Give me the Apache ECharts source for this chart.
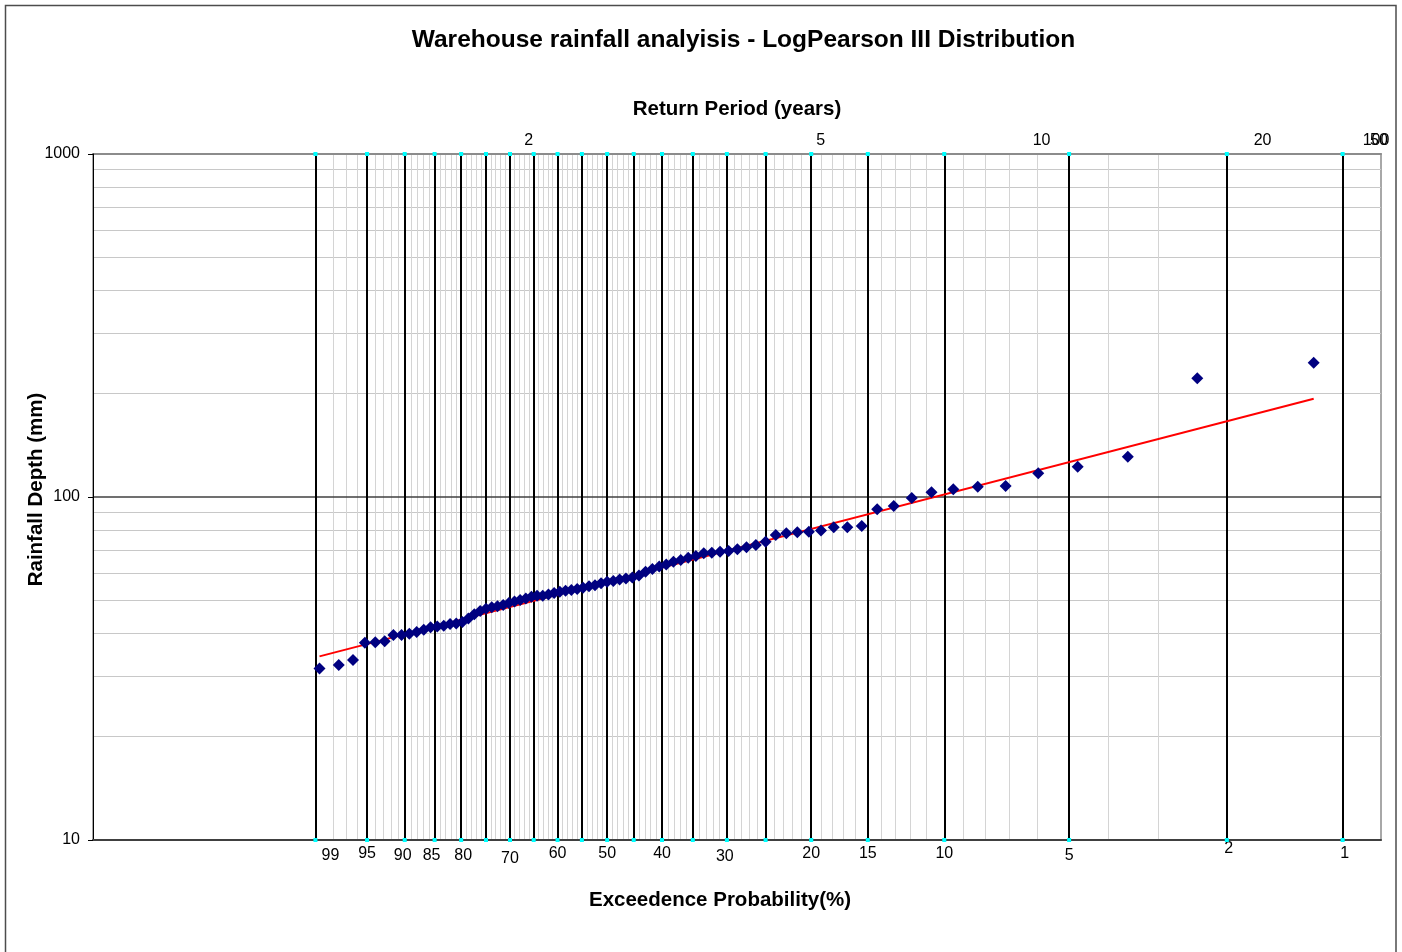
<!DOCTYPE html>
<html>
<head>
<meta charset="utf-8">
<title>Warehouse rainfall analyisis - LogPearson III Distribution</title>
<script src="https://cdn.jsdelivr.net/npm/echarts@6.0.0/dist/echarts.min.js"></script>
<style>
  html, body { margin: 0; padding: 0; background: #ffffff; }
  #chart { width: 1402px; height: 952px; }
</style>
</head>
<body>
<div id="chart"></div>
<script>
// Annual maximum rainfall depths (mm), ranked from largest (rank 1) to smallest.
const rainfallDepth = [
  246.4, 221.8, 131.1, 122.6, 117.2, 107.7, 107.2, 105.3, 103.2, 99.3,
  94.1, 92.1, 82.3, 81.6, 81.6, 79.8, 79.2, 78.9, 78.4, 77.5,
  74.1, 72.5, 71.4, 70.4, 69.6, 69.3, 68.8, 68.5, 67.3, 66.5,
  65.5, 64.7, 63.6, 62.7, 61.7, 60.5, 59.0, 58.3, 57.9, 57.5,
  56.9, 56.6, 56.0, 55.3, 54.9, 54.4, 53.9, 53.6, 53.3, 52.9,
  52.5, 52.0, 51.5, 51.5, 51.2, 50.6, 50.1, 49.6, 49.1, 48.4,
  48.0, 47.7, 47.2, 46.5, 45.5, 44.2, 43.2, 42.8, 42.6, 42.1,
  41.9, 41.7, 41.0, 40.4, 39.9, 39.6, 39.6, 38.0, 37.7, 37.6,
  33.5, 32.4, 31.6
];

// Fitted Log-Pearson III depths (mm) at the largest and smallest plotting positions.
const fittedDepthEnds = [34.3, 193.5];

// Exceedance probability grid (%).
const majorProbabilities = [99, 95, 90, 85, 80, 75, 70, 65, 60, 55, 50, 45, 40, 35, 30, 25, 20, 15, 10, 5, 2, 1];
const labelledProbabilities = [99, 95, 90, 85, 80, 70, 60, 50, 40, 30, 20, 15, 10, 5, 2, 1];
const minorProbabilities = [
  98, 97, 96, 94, 93, 92, 91, 89, 88, 87, 86, 84, 83, 82, 81, 79, 78, 77, 76,
  74, 73, 72, 71, 69, 68, 67, 66, 64, 63, 62, 61, 59, 58, 57, 56, 54, 53, 52, 51,
  49, 48, 47, 46, 44, 43, 42, 41, 39, 38, 37, 36, 34, 33, 32, 31, 29, 28, 27, 26,
  24, 23, 22, 21, 19, 18, 17, 16, 14, 13, 12, 11, 9, 8, 7, 6, 4, 3
];

// Return period labels (years) along the top.
const returnPeriods = [2, 5, 10, 20, 50, 100];

// Depth ticks and intermediate depth grid lines (mm).
const depthTicks = [10, 100, 1000];
const depthGridMinor = [20, 30, 40, 50, 60, 70, 80, 90, 200, 300, 400, 500, 600, 700, 800, 900];

// Scale settings.
const scaleSkew = 1.15;                 // skew coefficient of the probability paper
const kAxisMin = -2.5, kAxisMax = 3.3;  // frequency-factor range of the plot
const rpAxisMin = 0.51, rpAxisMax = 29; // return-period range of the top scale (log)

const FONT = "'Liberation Sans', Arial, Helvetica, sans-serif";

// Standard normal quantile (Acklam's rational approximation).
function normInv(p) {
  const a = [-3.969683028665376e+01, 2.209460984245205e+02, -2.759285104469687e+02,
             1.383577518672690e+02, -3.066479806614716e+01, 2.506628277459239e+00];
  const b = [-5.447609879822406e+01, 1.615858368580409e+02, -1.556989798598866e+02,
             6.680131188771972e+01, -1.328068155288572e+01];
  const c = [-7.784894002430293e-03, -3.223964580411365e-01, -2.400758277161838e+00,
             -2.549732539343734e+00, 4.374664141464968e+00, 2.938163982698783e+00];
  const d = [7.784695709041462e-03, 3.224671290700398e-01, 2.445134137142996e+00,
             3.754408661907416e+00];
  const pl = 0.02425, ph = 1 - pl;
  let q, r;
  if (p < pl) {
    q = Math.sqrt(-2 * Math.log(p));
    return (((((c[0]*q+c[1])*q+c[2])*q+c[3])*q+c[4])*q+c[5]) / ((((d[0]*q+d[1])*q+d[2])*q+d[3])*q+1);
  }
  if (p <= ph) {
    q = p - 0.5; r = q * q;
    return (((((a[0]*r+a[1])*r+a[2])*r+a[3])*r+a[4])*r+a[5])*q / (((((b[0]*r+b[1])*r+b[2])*r+b[3])*r+b[4])*r+1);
  }
  q = Math.sqrt(-2 * Math.log(1 - p));
  return -(((((c[0]*q+c[1])*q+c[2])*q+c[3])*q+c[4])*q+c[5]) / ((((d[0]*q+d[1])*q+d[2])*q+d[3])*q+1);
}

// Pearson III frequency factor for an exceedance probability in % (Wilson-Hilferty).
function freqFactor(exceedPct) {
  const z = normInv(1 - exceedPct / 100);
  const k = scaleSkew / 6;
  return (2 / scaleSkew) * (Math.pow(1 + k * z - k * k, 3) - 1);
}

// Weibull plotting positions m / (n + 1).
const n = rainfallDepth.length;
const plottingPositions = rainfallDepth.map((_, i) => (i + 1) / (n + 1) * 100);
const observedPoints = rainfallDepth.map((d, i) => [freqFactor(plottingPositions[i]), d]);
const fittedPoints = [
  [freqFactor(plottingPositions[n - 1]), fittedDepthEnds[0]],
  [freqFactor(plottingPositions[0]), fittedDepthEnds[1]]
];
const gridMarkerPoints = [];
majorProbabilities.forEach(p => {
  gridMarkerPoints.push([freqFactor(p), depthTicks[0]]);
  gridMarkerPoints.push([freqFactor(p), depthTicks[depthTicks.length - 1]]);
});

// Small label offsets along the probability scale: [dx, dy] in px.
const probLabelNudge = { 99: [15, 2], 90: [-2, 2], 85: [-3, 2], 80: [2, 2], 70: [0, 4.5],
                         30: [-2, 2.5], 5: [0, 1.5], 2: [2, -5], 1: [2, 0] };
const probRich = {};
labelledProbabilities.forEach(p => {
  const [dx, dy] = probLabelNudge[p] || [0, 0];
  probRich['p' + p] = { padding: [5 + dy, dx < 0 ? -2 * dx : 0, 0, dx > 0 ? 2 * dx : 0] };
});

function nearestProbability(v) {
  let best = labelledProbabilities[0];
  labelledProbabilities.forEach(p => {
    if (Math.abs(freqFactor(p) - v) < Math.abs(freqFactor(best) - v)) best = p;
  });
  return best;
}

// Return periods beyond the top scale sit at its right end.
const rpPos = t => Math.log10(Math.min(t, rpAxisMax));
const rpOverflow = returnPeriods.filter(t => t > rpAxisMax);
const rpPrimary = returnPeriods.filter(t => t <= rpAxisMax).concat(rpOverflow.slice(-1));
const rpSecondary = rpOverflow.slice(0, -1);

function topAxis(periods, edgePadding, withName) {
  return {
    type: 'value',
    position: 'top',
    min: Math.log10(rpAxisMin),
    max: Math.log10(rpAxisMax),
    name: withName ? 'Return Period (years)' : '',
    nameLocation: 'middle',
    nameGap: 34,
    nameMoveOverlap: false,
    nameTextStyle: { fontFamily: FONT, fontSize: 20.5, fontWeight: 'bold', color: '#000' },
    axisLine: { show: withName, lineStyle: { color: '#8c8c8c', width: 2 } },
    axisTick: { show: false },
    splitLine: { show: false },
    axisLabel: {
      customValues: periods.map(rpPos),
      margin: 5,
      fontFamily: FONT, fontSize: 16, color: '#000',
      formatter: v => {
        const t = periods.find(x => Math.abs(rpPos(x) - v) < 1e-6);
        if (t == null) return '';
        return '{' + (t > rpAxisMax ? 'edge' : 'n') + '|' + t + '}';
      },
      rich: { n: {}, edge: { padding: [0, edgePadding, 0, 0] } }
    }
  };
}

const chart = echarts.init(document.getElementById('chart'), null, { renderer: 'canvas' });

chart.setOption({
  animation: false,
  backgroundColor: '#ffffff',
  title: {
    text: 'Warehouse rainfall analyisis - LogPearson III Distribution',
    left: 738.5,
    top: 23,
    textAlign: 'center',
    textStyle: { fontFamily: FONT, fontSize: 24.5, fontWeight: 'bold', color: '#000' }
  },
  graphic: [{
    type: 'rect',
    shape: { x: 5.5, y: 5.5, width: 1390.5, height: 960 },
    style: { fill: 'none', stroke: '#4d4d4d', lineWidth: 1.5 },
    silent: true,
    z: 0
  }],
  grid: {
    left: 93, right: 21, top: 154, bottom: 112,
    containLabel: false,
    outerBoundsMode: 'none',
    show: true,
    backgroundColor: 'transparent',
    borderColor: '#8c8c8c',
    borderWidth: 1.5
  },
  xAxis: [
    {
      // Exceedance probability scale (frequency-factor units)
      type: 'value',
      position: 'bottom',
      min: kAxisMin, max: kAxisMax,
      z: 1,
      name: 'Exceedence Probability(%)',
      nameLocation: 'middle',
      nameGap: 50,
      nameMoveOverlap: false,
      nameTextStyle: { fontFamily: FONT, fontSize: 20.5, fontWeight: 'bold', color: '#000', padding: [0, 34, 0, 0] },
      axisLine: { show: true, onZero: false, lineStyle: { color: '#404040', width: 2 } },
      axisTick: { show: false, customValues: majorProbabilities.map(freqFactor) },
      splitLine: { show: true, lineStyle: { color: '#000000', width: 2 } },
      axisLabel: {
        customValues: labelledProbabilities.map(freqFactor),
        margin: 1,
        fontFamily: FONT, fontSize: 16, color: '#000',
        formatter: v => { const p = nearestProbability(v); return '{p' + p + '|' + p + '}'; },
        rich: probRich
      }
    },
    {
      // Intermediate probability grid lines
      type: 'value',
      position: 'bottom',
      min: kAxisMin, max: kAxisMax,
      z: 0,
      axisLine: { show: false, onZero: false },
      axisTick: { show: false, customValues: minorProbabilities.map(freqFactor) },
      axisLabel: { show: false },
      splitLine: { show: true, lineStyle: { color: '#d4d4d4', width: 1 } }
    },
    topAxis(rpPrimary, 10, true),
    topAxis(rpSecondary, 4, false)
  ],
  yAxis: [
    {
      type: 'log',
      logBase: 10,
      min: depthTicks[0], max: depthTicks[depthTicks.length - 1],
      z: 1,
      name: 'Rainfall Depth (mm)',
      nameLocation: 'middle',
      nameGap: 46,
      nameMoveOverlap: false,
      nameRotate: 90,
      nameTextStyle: { fontFamily: FONT, fontSize: 20.5, fontWeight: 'bold', color: '#000', padding: [0, 0, 0, 15] },
      axisLine: { show: true, onZero: false, lineStyle: { color: '#000000', width: 1 } },
      axisTick: { show: true, inside: false, length: 5, lineStyle: { color: '#000000', width: 1 } },
      splitLine: { show: true, showMinLine: false, showMaxLine: false, lineStyle: { color: '#404040', width: 1.5 } },
      axisLabel: {
        margin: 13,
        fontFamily: FONT, fontSize: 16, color: '#000',
        formatter: v => String(Math.round(v))
      }
    },
    {
      // Intermediate depth grid lines (log10 units)
      type: 'value',
      position: 'left',
      min: Math.log10(depthTicks[0]), max: Math.log10(depthTicks[depthTicks.length - 1]),
      z: 0,
      axisLine: { show: false, onZero: false },
      axisTick: { show: false, customValues: depthGridMinor.map(Math.log10) },
      axisLabel: { show: false },
      splitLine: { show: true, lineStyle: { color: '#c8c8c8', width: 1 } }
    }
  ],
  series: [
    {
      name: 'LogPearson III fit',
      type: 'line',
      xAxisIndex: 0, yAxisIndex: 0,
      data: fittedPoints,
      showSymbol: false,
      symbol: 'none',
      lineStyle: { color: '#ff0000', width: 2 },
      z: 3,
      silent: true
    },
    {
      name: 'Observed',
      type: 'scatter',
      xAxisIndex: 0, yAxisIndex: 0,
      data: observedPoints,
      symbol: 'diamond',
      symbolSize: 12,
      itemStyle: { color: '#000080', opacity: 1 },
      z: 4
    },
    {
      name: 'Grid markers',
      type: 'scatter',
      xAxisIndex: 0, yAxisIndex: 0,
      data: gridMarkerPoints,
      symbol: 'rect',
      symbolSize: 4,
      itemStyle: { color: '#00ffff', opacity: 1 },
      clip: false,
      silent: true,
      z: 5
    }
  ]
});
</script>
</body>
</html>
